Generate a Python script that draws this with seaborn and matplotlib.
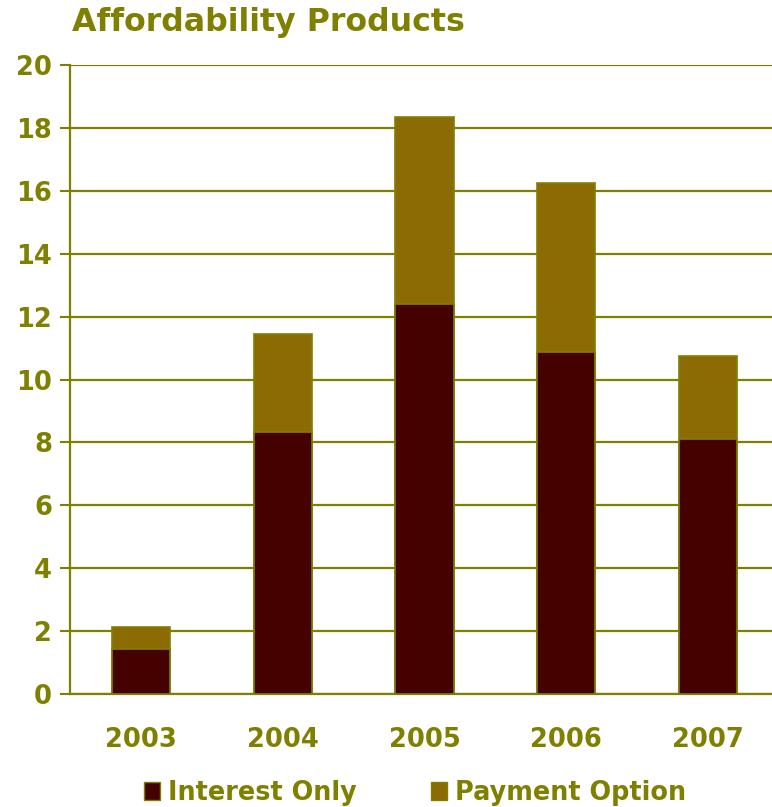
import matplotlib
matplotlib.use("Agg")
import matplotlib.pyplot as plt
from matplotlib.patches import Patch
import seaborn as sns
import pandas as pd

years = ["2003", "2004", "2005", "2006", "2007"]
interest_only = [1.43, 8.33, 12.4, 10.87, 8.1]
payment_option = [0.7, 3.12, 5.95, 5.38, 2.65]

OLIVE = "#808000"
IO_COLOR = "#450000"
PO_COLOR = "#8C6A04"

sns.set_theme(style="white")
plt.rcParams["font.family"] = ["DejaVu Sans"]
plt.rcParams["font.weight"] = "bold"

df = pd.DataFrame({
    "year": years,
    "io": interest_only,
    "total": [a + b for a, b in zip(interest_only, payment_option)],
})

fig = plt.figure(figsize=(7.72, 8.07), dpi=100)
ax = fig.add_axes([70 / 772, 1 - 694 / 807, 702 / 772, (694 - 65) / 807])

# stacked bars: totals behind, interest-only in front
sns.barplot(data=df, x="year", y="total", color=PO_COLOR, width=0.41,
            saturation=1, edgecolor=OLIVE, linewidth=1.2, ax=ax, zorder=3)
sns.barplot(data=df, x="year", y="io", color=IO_COLOR, width=0.41,
            saturation=1, edgecolor=OLIVE, linewidth=1.2, ax=ax, zorder=4)

ax.set_ylim(0, 20)
ax.set_xlim(-0.5, 4.45)
ax.set_yticks(range(0, 21, 2))
ax.yaxis.grid(True, color=OLIVE, linewidth=1.6, zorder=0)
ax.set_axisbelow(True)
ax.set_xlabel("")
ax.set_ylabel("")

for side in ["top", "right"]:
    ax.spines[side].set_visible(False)
for side in ["left", "bottom"]:
    ax.spines[side].set_color(OLIVE)
    ax.spines[side].set_linewidth(1.6)

ax.tick_params(axis="y", which="major", left=True, length=7, width=1.5,
               color=OLIVE, labelcolor=OLIVE, labelsize=18.5, pad=6)
ax.tick_params(axis="x", bottom=False, labelcolor=OLIVE, labelsize=18.5, pad=18)
for lbl in ax.get_xticklabels() + ax.get_yticklabels():
    lbl.set_fontweight("bold")

fig.text(72 / 772, 1 - 23 / 807, "Affordability Products", color=OLIVE,
         fontsize=22.8, fontweight="bold", ha="left", va="center")

handles = [Patch(facecolor=IO_COLOR, edgecolor=OLIVE, label="Interest Only"),
           Patch(facecolor=PO_COLOR, edgecolor=OLIVE, label="Payment Option")]
leg = fig.legend(handles=handles, loc="center", bbox_to_anchor=(415 / 772, 1 - 793 / 807),
                 ncol=2, frameon=False, handlelength=0.65, handleheight=0.65,
                 handletextpad=0.3, columnspacing=2.9,
                 prop={"size": 18.4, "weight": "bold"})
for t in leg.get_texts():
    t.set_color(OLIVE)

fig.savefig("out.png", dpi=100)
